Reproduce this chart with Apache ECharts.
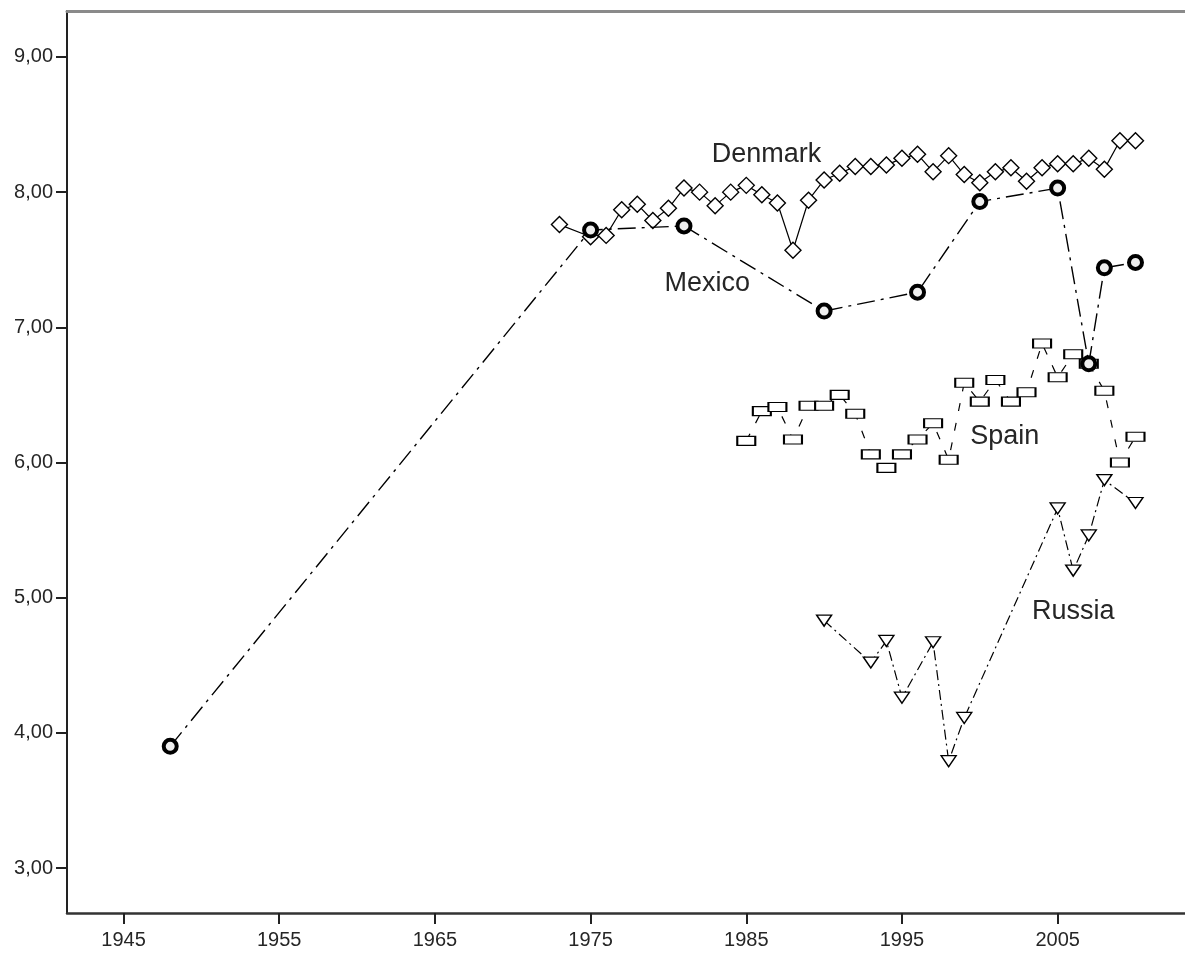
<!DOCTYPE html>
<html>
<head>
<meta charset="utf-8">
<script src="https://cdn.jsdelivr.net/npm/echarts@6/dist/echarts.min.js"></script>
<style>
html,body{margin:0;padding:0;background:#fff;}
#chart{width:1185px;height:956px;}
</style>
</head>
<body>
<div id="chart"></div>
<script>
// ---- data ----
const denmarkYears = [1973,1975,1976,1977,1978,1979,1980,1981,1982,1983,1984,1985,1986,1987,1988,1989,1990,1991,1992,1993,1994,1995,1996,1997,1998,1999,2000,2001,2002,2003,2004,2005,2006,2007,2008,2009,2010];
const denmarkValues = [7.76,7.67,7.68,7.87,7.91,7.79,7.88,8.03,8.00,7.90,8.00,8.05,7.98,7.92,7.57,7.94,8.09,8.14,8.19,8.19,8.20,8.25,8.28,8.15,8.27,8.13,8.07,8.15,8.18,8.08,8.18,8.21,8.21,8.25,8.17,8.38,8.38];

const mexicoYears = [1948,1975,1981,1990,1996,2000,2005,2007,2008,2010];
const mexicoValues = [3.90,7.72,7.75,7.12,7.26,7.93,8.03,6.73,7.44,7.48];

const spainYears = [1985,1986,1987,1988,1989,1990,1991,1992,1993,1994,1995,1996,1997,1998,1999,2000,2001,2002,2003,2004,2005,2006,2007,2008,2009,2010];
const spainValues = [6.16,6.38,6.41,6.17,6.42,6.42,6.50,6.36,6.06,5.96,6.06,6.17,6.29,6.02,6.59,6.45,6.61,6.45,6.52,6.88,6.63,6.80,6.73,6.53,6.00,6.19];

const russiaYears = [1990,1993,1994,1995,1997,1998,1999,2005,2006,2007,2008,2010];
const russiaValues = [4.83,4.52,4.68,4.26,4.67,3.79,4.11,5.66,5.20,5.46,5.87,5.70];

const xTickValues = [1945,1955,1965,1975,1985,1995,2005];
const yTickValues = [3,4,5,6,7,8,9];

const annotationNames = ['Denmark','Mexico','Spain','Russia'];
const annotationYears = [1986.3,1982.5,2001.6,2006.0];
const annotationValues = [8.28,7.32,6.19,4.90];

// ---- chart ----
const FONT = '"Liberation Sans", Arial, sans-serif';
const pairs = (xs, ys) => xs.map((x, i) => [x, ys[i]]);
const ann = (i) => ({
  symbol: 'rect', symbolSize: 1,
  itemStyle: { color: 'rgba(0,0,0,0)' },
  label: { show: true, position: 'inside', color: '#262626', fontSize: 27, fontFamily: FONT, formatter: annotationNames[i] },
  data: [{ coord: [annotationYears[i], annotationValues[i]] }],
  animation: false
});

const chart = echarts.init(document.getElementById('chart'), null, { renderer: 'canvas' });
chart.setOption({
  backgroundColor: '#fff',
  animation: false,
  grid: { left: 67, right: 0, top: 11, bottom: 43, containLabel: false },
  xAxis: [{
    type: 'value', min: 1941.37, max: 2013.18,
    axisLine: { show: true, lineStyle: { color: '#333', width: 2.5 } },
    axisTick: { show: true, length: 11, customValues: xTickValues, lineStyle: { color: '#222', width: 2 } },
    axisLabel: { show: true, customValues: xTickValues, margin: 17, color: '#262626', fontSize: 20, fontFamily: FONT, formatter: v => String(v) },
    splitLine: { show: false }
  }, {
    type: 'value', position: 'top', min: 1941.37, max: 2013.18,
    axisLine: { show: true, lineStyle: { color: '#8a8a8a', width: 3 } },
    axisTick: { show: false }, axisLabel: { show: false }, splitLine: { show: false }
  }],
  yAxis: {
    type: 'value', min: 2.667, max: 9.34,
    axisLine: { show: true, lineStyle: { color: '#222', width: 2 } },
    axisTick: { show: true, length: 11, customValues: yTickValues, lineStyle: { color: '#222', width: 2 } },
    axisLabel: { show: true, customValues: yTickValues, margin: 14, color: '#262626', fontSize: 20, fontFamily: FONT, formatter: v => v.toFixed(2).replace('.', ',') },
    splitLine: { show: false }
  },
  series: [
    {
      name: 'Spain', type: 'line', data: pairs(spainYears, spainValues),
      symbol: 'rect', symbolSize: [18, 9], showAllSymbol: true,
      lineStyle: { color: '#000', width: 1.2, type: [8, 12] },
      itemStyle: { color: '#fff', borderColor: '#000', borderWidth: 1.5 },
      markPoint: ann(2), z: 2
    },
    {
      name: 'Russia', type: 'line', data: pairs(russiaYears, russiaValues),
      symbol: 'triangle', symbolRotate: 180, symbolSize: [15, 11], showAllSymbol: true,
      lineStyle: { color: '#000', width: 1.2, type: [10, 4, 2, 4] },
      itemStyle: { color: '#fff', borderColor: '#000', borderWidth: 1.4 },
      markPoint: ann(3), z: 2
    },
    {
      name: 'Denmark', type: 'line', data: pairs(denmarkYears, denmarkValues),
      symbol: 'diamond', symbolSize: 16, showAllSymbol: true,
      lineStyle: { color: '#000', width: 1.2 },
      itemStyle: { color: '#fff', borderColor: '#000', borderWidth: 1.4 },
      markPoint: ann(0), z: 3
    },
    {
      name: 'Mexico', type: 'line', data: pairs(mexicoYears, mexicoValues),
      symbol: 'circle', symbolSize: 13, showAllSymbol: true,
      lineStyle: { color: '#000', width: 1.4, type: [18, 6, 3, 6] },
      itemStyle: { color: '#eeeeee', borderColor: '#000', borderWidth: 4 },
      markPoint: ann(1), z: 4
    }
  ]
});
</script>
</body>
</html>
